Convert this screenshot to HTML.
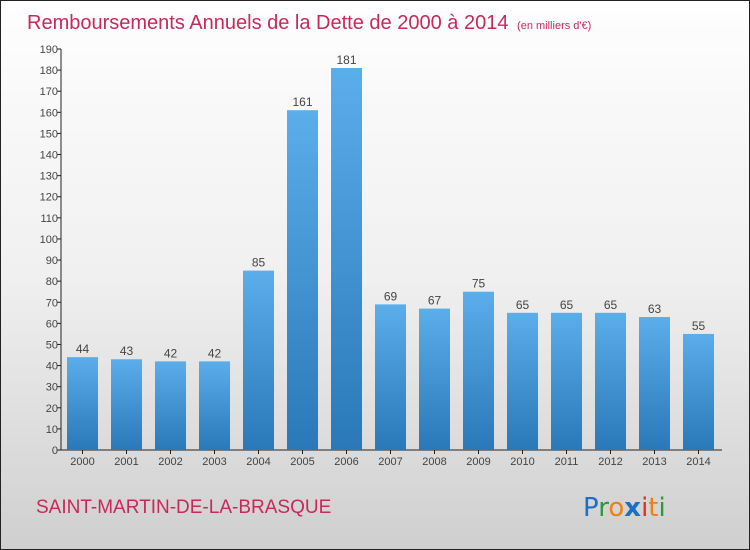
<!DOCTYPE html>
<html><head><meta charset="utf-8"><style>
body{margin:0}
#c{width:750px;height:550px;position:relative;box-sizing:border-box;border:1px solid #222;background:linear-gradient(#fefefe 0%,#f0f0f0 50%,#cfcfcf 100%);font-family:"Liberation Sans",sans-serif;overflow:hidden}
</style></head><body>
<div id="c">
<svg id="s" width="750" height="550" style="position:absolute;left:-1px;top:-1px">
<text x="27" y="29" font-size="20" fill="#c8285a">Remboursements Annuels de la Dette de 2000 à 2014 <tspan font-size="11">&#160;(en milliers d'€)</tspan></text>
<text x="36" y="513" font-size="19" fill="#c8285a">SAINT-MARTIN-DE-LA-BRASQUE</text>
<g font-size="26" font-family="'DejaVu Sans',sans-serif">
<text x="583" y="516"><tspan fill="#1a6fc8">P</tspan><tspan fill="#2a9a3a">r</tspan><tspan fill="#f08010">o</tspan><tspan fill="#1a6fc8" font-weight="bold">x</tspan><tspan fill="#e03020">i</tspan><tspan fill="#f08010">t</tspan><tspan fill="#2a9a3a">i</tspan></text>
</g>
<defs><linearGradient id="g" x1="0" y1="0" x2="0" y2="1"><stop offset="0" stop-color="#5aaeea"/><stop offset="1" stop-color="#2a78b8"/></linearGradient></defs>
<g id="plot"></g>
</svg>
</div>
<script>
const years=["2000","2001","2002","2003","2004","2005","2006","2007","2008","2009","2010","2011","2012","2013","2014"];
const values=[44,43,42,42,85,161,181,69,67,75,65,65,65,63,55];
const yTicks=[0,10,20,30,40,50,60,70,80,90,100,110,120,130,140,150,160,170,180,190];
const NS="http://www.w3.org/2000/svg";
const g=document.getElementById('plot');
const y0=450,yTop=49,yMax=190,ax=61;
function y(v){return y0-(v/yMax)*(y0-yTop);}
function x(i){return 67+i*44;}
function el(t,a,p){const e=document.createElementNS(NS,t);for(const k in a)e.setAttribute(k,a[k]);(p||g).appendChild(e);return e;}
let axis=el('line',{x1:ax,y1:yTop,x2:ax,y2:y0,stroke:'#222'});


let xaxis=el('line',{x1:ax,y1:y0,x2:722,y2:y0,stroke:'#222'});


yTicks.forEach(v=>{
  const tk=el('line',{x1:ax-4,y1:y(v),x2:ax,y2:y(v),stroke:'#222'});
  
  
  const t=el('text',{x:ax-3,y:y(v)+4,'font-size':11,fill:'#444','text-anchor':'end'});
  t.textContent=v;
  
  
});
years.forEach((yr,i)=>{
  const v=values[i];
  const r=el('rect',{x:x(i),y:y(v),width:31,height:y0-y(v),fill:'url(#g)'});
  
  
  const tk=el('line',{x1:x(i)+15.5,y1:y0,x2:x(i)+15.5,y2:y0+4,stroke:'#222'});
  
  
  const l=el('text',{x:x(i)+15.5,y:y0+15,'font-size':11,fill:'#444','text-anchor':'middle'});
  l.textContent=yr;
  
  
  const vl=el('text',{x:x(i)+15.5,y:y(v)-4,'font-size':12,fill:'#444','text-anchor':'middle'});
  vl.textContent=v;
  
  
});
</script>
</body></html>
